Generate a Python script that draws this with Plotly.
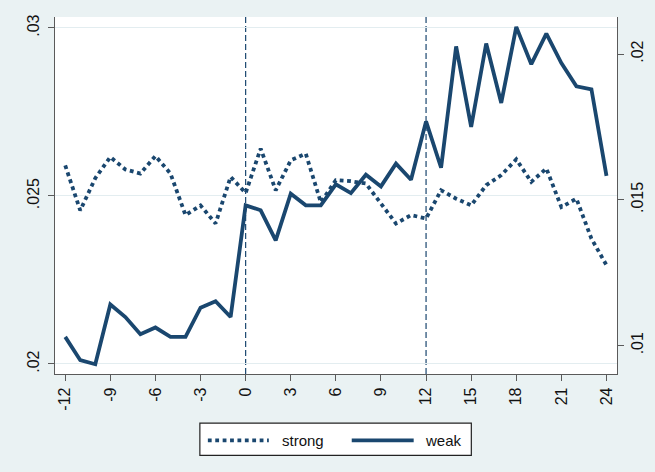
import plotly.graph_objects as go

# Event time (months relative to the event)
months = list(range(-12, 25))

# Series plotted on the left axis (strong) and on the right axis (weak)
strong = [0.02591, 0.02457, 0.02553, 0.02616, 0.02579, 0.02567, 0.02619, 0.02567,
          0.02443, 0.02472, 0.02418, 0.02557, 0.02509, 0.02641, 0.02517, 0.02606,
          0.02626, 0.02481, 0.02547, 0.02544, 0.02537, 0.02477, 0.02418, 0.02443,
          0.02433, 0.02517, 0.02492, 0.02472, 0.02532, 0.02562, 0.02609, 0.02542,
          0.02582, 0.02467, 0.02492, 0.02373, 0.02294]
weak = [0.01030, 0.00950, 0.00936, 0.01141, 0.01098, 0.01039, 0.01062, 0.01030,
        0.01030, 0.01130, 0.01152, 0.01098, 0.01481, 0.01464, 0.01361, 0.01521,
        0.01481, 0.01481, 0.01553, 0.01523, 0.01586, 0.01546, 0.01624, 0.01569,
        0.01769, 0.01610, 0.02026, 0.01750, 0.02036, 0.01832, 0.02093, 0.01965,
        0.02070, 0.01969, 0.01889, 0.01879, 0.01582]
series_names = ["strong", "weak"]

# Axis ticks
x_ticks = [-12, -9, -6, -3, 0, 3, 6, 9, 12, 15, 18, 21, 24]
x_labels = ["-12", "-9", "-6", "-3", "0", "3", "6", "9", "12", "15", "18", "21", "24"]
y1_ticks = [0.02, 0.025, 0.03]
y1_labels = [".02", ".025", ".03"]
y2_ticks = [0.01, 0.015, 0.02]
y2_labels = [".01", ".015", ".02"]

# Reference lines
event_lines = [0, 12]

NAVY = "#1a476f"
BG = "#eaf2f3"
AXIS = "#5a5a5a"
FONT = dict(family="Liberation Sans, Arial, Helvetica, sans-serif", size=15, color="#111")
TICKFONT = dict(family="Liberation Sans, Arial, Helvetica, sans-serif", size=16, color="#111")

W, H = 655, 472
L, R, T, B = 55, 37.5, 17, 98.3
pw, ph = W - L - R, H - T - B


def px_x(p):
    return (p - L) / pw


def px_y(p):
    return (H - B - p) / ph


fig = go.Figure()
fig.add_trace(go.Scatter(x=months, y=strong, mode="lines", name=series_names[0],
                         line=dict(color=NAVY, width=3.8, dash="3.8px,3.6px"),
                         showlegend=False, yaxis="y"))
fig.add_trace(go.Scatter(x=months, y=weak, mode="lines", name=series_names[1],
                         line=dict(color=NAVY, width=3.8),
                         showlegend=False, yaxis="y2"))

shapes = []
for xv in event_lines:
    shapes.append(dict(type="line", xref="x", yref="paper", x0=xv, x1=xv, y0=0, y1=1,
                       line=dict(color=NAVY, width=1.2, dash="6px,3px"), layer="below"))

# Legend box drawn below the plot
shapes.append(dict(type="rect", xref="paper", yref="paper",
                   x0=px_x(200), x1=px_x(471.7), y0=px_y(455), y1=px_y(422.7),
                   fillcolor="white", line=dict(color="#222", width=1.2)))
ly = px_y(440)
shapes.append(dict(type="line", xref="paper", yref="paper", x0=px_x(208), x1=px_x(269),
                   y0=ly, y1=ly, line=dict(color=NAVY, width=3.8, dash="3.8px,3.6px")))
shapes.append(dict(type="line", xref="paper", yref="paper", x0=px_x(352), x1=px_x(414),
                   y0=ly, y1=ly, line=dict(color=NAVY, width=3.8)))

annotations = [
    dict(text=series_names[0], xref="paper", yref="paper", x=px_x(280), y=ly,
         xanchor="left", yanchor="middle", showarrow=False, font=FONT),
    dict(text=series_names[1], xref="paper", yref="paper", x=px_x(423), y=ly,
         xanchor="left", yanchor="middle", showarrow=False, font=FONT),
]

y1_range = [0.019702, 0.030327]
y2_range = [0.009026, 0.021269]

fig.update_layout(
    width=W, height=H,
    margin=dict(l=L, r=R, t=T, b=B),
    paper_bgcolor=BG, plot_bgcolor="white",
    font=FONT,
    shapes=shapes, annotations=annotations,
    xaxis=dict(range=[-12.68, 24.70], tickvals=x_ticks, ticktext=x_labels, tickangle=-90,
               tickfont=TICKFONT, automargin=False,
               ticks="outside", ticklen=6, tickcolor=AXIS, tickwidth=1.2,
               showline=True, linecolor=AXIS, linewidth=1.3,
               showgrid=False, zeroline=False),
    yaxis=dict(range=y1_range, tickvals=y1_ticks, ticktext=y1_labels, tickangle=-90,
               tickfont=TICKFONT, ticklabelstandoff=2, automargin=False,
               ticks="outside", ticklen=6, tickcolor=AXIS, tickwidth=1.2,
               showline=True, linecolor=AXIS, linewidth=1.3,
               showgrid=True, gridcolor="#e3edf0", gridwidth=1.2, zeroline=False),
    yaxis2=dict(range=y2_range, tickvals=y2_ticks, ticktext=y2_labels, tickangle=-90,
                tickfont=TICKFONT, automargin=False,
                overlaying="y", side="right", anchor="x",
                ticks="outside", ticklen=6, tickcolor=AXIS, tickwidth=1.2,
                showline=True, linecolor=AXIS, linewidth=1.3,
                showgrid=False, zeroline=False),
)

fig.write_html("out.html")
